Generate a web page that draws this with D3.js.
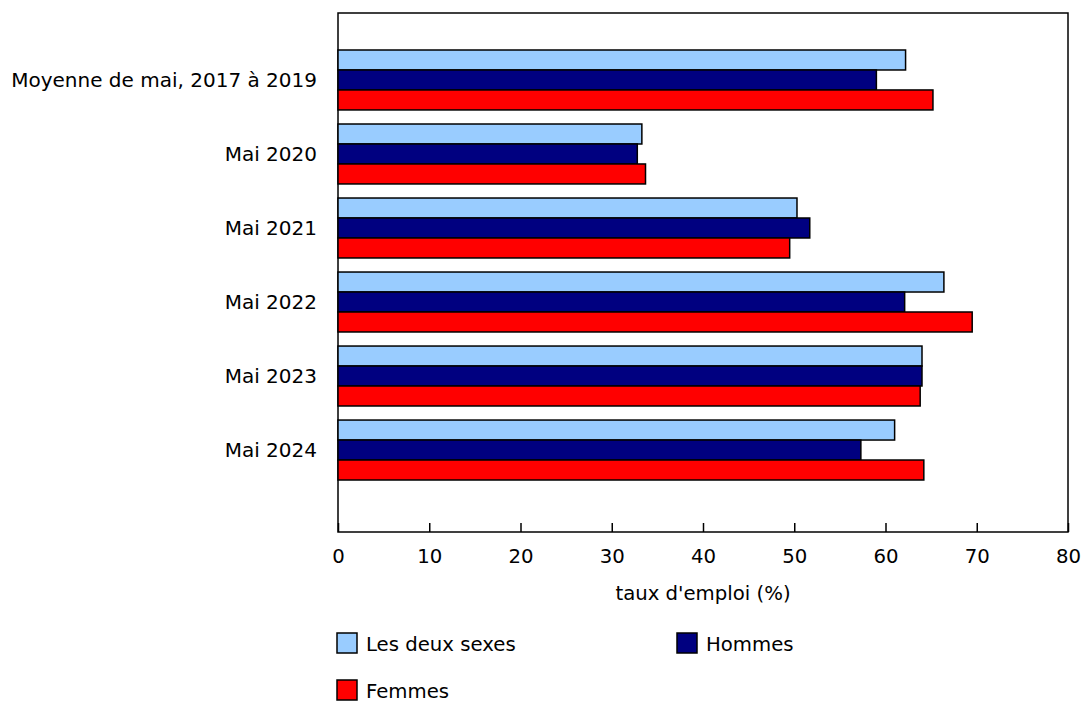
<!DOCTYPE html>
<html>
<head>
<meta charset="utf-8">
<script src="https://cdn.jsdelivr.net/npm/d3@7"></script>
<style>
  body { margin: 0; background: #fff; }
  text { font-family: "DejaVu Sans", Verdana, sans-serif; fill: #000; }
</style>
</head>
<body>
<svg id="chart"></svg>
<script>
const categories = ["Moyenne de mai, 2017 à 2019", "Mai 2020", "Mai 2021", "Mai 2022", "Mai 2023", "Mai 2024"];
const series = ["Les deux sexes", "Hommes", "Femmes"];
const bothSexes = [62.2, 33.3, 50.3, 66.4, 64.0, 61.0];
const men = [59.0, 32.8, 51.7, 62.1, 64.0, 57.3];
const women = [65.2, 33.7, 49.5, 69.5, 63.8, 64.2];
const xTicks = [0, 10, 20, 30, 40, 50, 60, 70, 80];
const axisTitle = "taux d'emploi (%)";

const colors = ["#99ccff", "#000080", "#ff0000"];
const values = [bothSexes, men, women];

const width = 1082;
const height = 703;
const fontSize = "19.7px";

const plot = { left: 338, right: 1068, top: 13, bottom: 532 };

const svg = d3.select("#chart")
  .attr("width", width)
  .attr("height", height);

const x = d3.scaleLinear()
  .domain([0, 80])
  .range([plot.left, plot.right]);

const y = d3.scaleBand()
  .domain(categories)
  .range([50, 480])
  .paddingInner(0.19)
  .paddingOuter(0);

const ySub = d3.scaleBand()
  .domain(series)
  .range([0, y.bandwidth()]);

// plot frame
svg.append("rect")
  .attr("x", plot.left)
  .attr("y", plot.top)
  .attr("width", plot.right - plot.left)
  .attr("height", plot.bottom - plot.top)
  .attr("fill", "none")
  .attr("stroke", "#000")
  .attr("stroke-width", 1.5);

// bars
const groups = svg.selectAll("g.group")
  .data(categories)
  .enter()
  .append("g")
  .attr("class", "group")
  .attr("transform", d => `translate(0,${y(d)})`);

groups.selectAll("rect")
  .data((d, i) => series.map((s, j) => ({ s, v: values[j][i], c: colors[j] })))
  .enter()
  .append("rect")
  .attr("x", x(0))
  .attr("y", d => ySub(d.s))
  .attr("width", d => x(d.v) - x(0))
  .attr("height", ySub.bandwidth())
  .attr("fill", d => d.c)
  .attr("stroke", "#000")
  .attr("stroke-width", 1.5);

// category labels
svg.append("g")
  .selectAll("text")
  .data(categories)
  .enter()
  .append("text")
  .attr("x", 317)
  .attr("y", d => y(d) + y.bandwidth() / 2)
  .attr("dy", "0.37em")
  .attr("text-anchor", "end")
  .style("font-size", "20px")
  .text(d => d);

// x axis, ticks pointing inside
const xAxis = d3.axisBottom(x)
  .tickValues(xTicks)
  .tickSize(-9)
  .tickFormat(d3.format("d"));

const axisG = svg.append("g")
  .attr("transform", `translate(0,${plot.bottom})`)
  .call(xAxis);
axisG.select(".domain").remove();
axisG.selectAll("line").attr("stroke", "#000").attr("stroke-width", 1.5);
axisG.selectAll("text")
  .attr("y", 31)
  .attr("dy", 0)
  .attr("fill", "#000")
  .style("font-size", fontSize)
  .style("font-family", "'DejaVu Sans', Verdana, sans-serif");

svg.append("text")
  .attr("x", (plot.left + plot.right) / 2)
  .attr("y", 600)
  .attr("text-anchor", "middle")
  .style("font-size", fontSize)
  .text(axisTitle);

// legend
const legendPos = [[337, 633], [677, 633], [337, 680]];
const legend = svg.append("g")
  .selectAll("g")
  .data(series)
  .enter()
  .append("g")
  .attr("transform", (d, i) => `translate(${legendPos[i][0]},${legendPos[i][1]})`);

legend.append("rect")
  .attr("width", 20)
  .attr("height", 20)
  .attr("fill", (d, i) => colors[i])
  .attr("stroke", "#000")
  .attr("stroke-width", 1.5);

legend.append("text")
  .attr("x", 29)
  .attr("y", 18)
  .style("font-size", fontSize)
  .text(d => d);
</script>
</body>
</html>
